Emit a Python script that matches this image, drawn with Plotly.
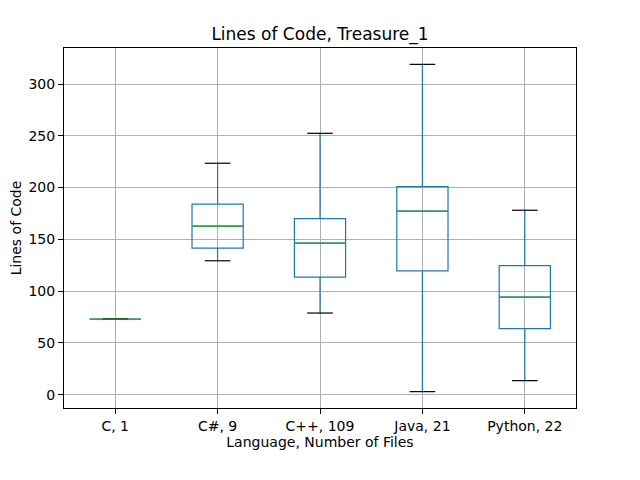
import plotly.graph_objects as go

categories = ["C, 1", "C#, 9", "C++, 109", "Java, 21", "Python, 22"]
lower_whisker = [73, 129.3, 78.8, 2.9, 13.5]
q1 = [73, 141.5, 113.5, 119.6, 63.7]
median = [73, 162.7, 146.3, 177.2, 94.2]
q3 = [73, 184, 170.1, 201, 124.7]
upper_whisker = [73, 223.5, 252.4, 319, 178.1]
y_ticks = [0, 50, 100, 150, 200, 250, 300]

pos = list(range(1, len(categories) + 1))
box_w = 0.5
cap_w = 0.25

fig = go.Figure()
fig.add_trace(go.Box(
    x=pos, q1=q1, median=median, q3=q3,
    lowerfence=lower_whisker, upperfence=upper_whisker,
    width=box_w, whiskerwidth=0, boxpoints=False,
    fillcolor="rgba(0,0,0,0)", line=dict(color="#1f77b4", width=1.2),
    showlegend=False, hoverinfo="skip"))

cx, cy = [], []
for p, lo, hi in zip(pos, lower_whisker, upper_whisker):
    cx += [p - cap_w / 2, p + cap_w / 2, None, p - cap_w / 2, p + cap_w / 2, None]
    cy += [lo, lo, None, hi, hi, None]
fig.add_trace(go.Scatter(x=cx, y=cy, mode="lines",
                         line=dict(color="black", width=1.2),
                         showlegend=False, hoverinfo="skip"))

mx, my = [], []
for p, m in zip(pos, median):
    mx += [p - box_w / 2, p + box_w / 2, None]
    my += [m, m, None]
fig.add_trace(go.Scatter(x=mx, y=my, mode="lines",
                         line=dict(color="#2ca02c", width=1.2),
                         showlegend=False, hoverinfo="skip"))

ymin = min(lower_whisker)
ymax = max(upper_whisker)
pad = (ymax - ymin) * 0.05

fig.update_layout(
    width=632, height=472,
    margin=dict(l=56, r=64, t=40, b=72),
    paper_bgcolor="white", plot_bgcolor="white",
    font=dict(family="DejaVu Sans", size=14, color="black"),
    title=dict(text="Lines of Code, Treasure_1", x=(320 - 8) / 632, xanchor="center",
               y=1 - 26 / 472, yanchor="middle", font=dict(size=17)),
    xaxis=dict(range=[0.5, len(categories) + 0.5], tickmode="array",
               tickvals=pos, ticktext=categories, automargin=False,
               showgrid=True, gridcolor="#b0b0b0", gridwidth=1,
               showline=True, linecolor="black", linewidth=1, mirror=True,
               ticks="outside", ticklen=5, tickcolor="black",
               zeroline=False,
               title=dict(text="Language, Number of Files", font=dict(size=14), standoff=4)),
    yaxis=dict(range=[ymin - pad, ymax + pad], tickmode="array", tickvals=y_ticks,
               automargin=False,
               showgrid=True, gridcolor="#b0b0b0", gridwidth=1,
               showline=True, linecolor="black", linewidth=1, mirror=True,
               ticks="outside", ticklen=5, tickcolor="black",
               zeroline=False,
               title=dict(text="Lines of Code", font=dict(size=14), standoff=8)),
)

fig.write_html("out.html")
